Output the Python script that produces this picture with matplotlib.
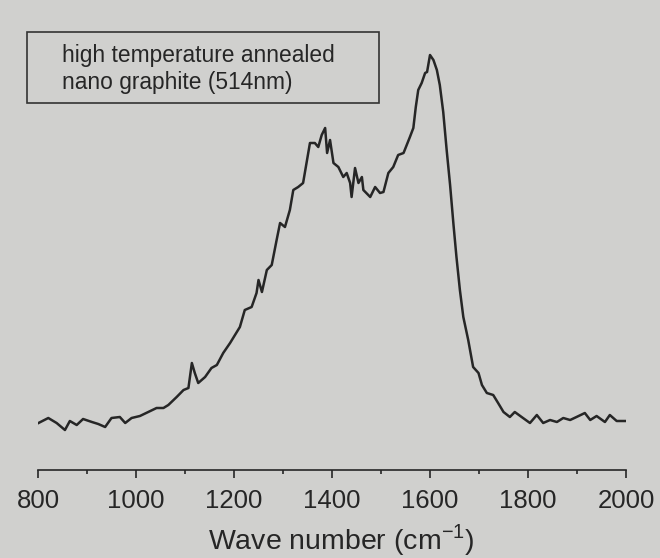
import numpy as np
import matplotlib
matplotlib.use("Agg")
import matplotlib.pyplot as plt
from matplotlib.patches import Rectangle
from matplotlib.ticker import MultipleLocator

plt.rcParams['font.family'] = ['Liberation Sans', 'DejaVu Sans']
plt.rcParams['mathtext.fontset'] = 'custom'
plt.rcParams['mathtext.rm'] = 'Liberation Sans'

# Raman spectrum (intensity in arbitrary units)
wavenumber = [801, 821, 838, 855, 865, 879, 892, 910, 923, 937, 950, 967, 978, 991,
              1008, 1025, 1042, 1056, 1066, 1083, 1097, 1107, 1114, 1120, 1127, 1141,
              1154, 1165, 1178, 1192, 1212, 1222, 1236, 1246, 1250, 1257, 1267, 1277,
              1287, 1294, 1304, 1314, 1321, 1331, 1341, 1348, 1355, 1365, 1372, 1379,
              1386, 1390, 1396, 1403, 1413, 1423, 1430, 1437, 1440, 1447, 1454, 1461,
              1464, 1478, 1488, 1498, 1505, 1515, 1525, 1535, 1546, 1559, 1566, 1571,
              1576, 1583, 1590, 1594, 1600, 1607, 1614, 1620, 1627, 1634, 1641, 1648,
              1654, 1661, 1668, 1678, 1688, 1699, 1706, 1716, 1729, 1739, 1750, 1763,
              1773, 1787, 1804, 1818, 1831, 1845, 1859, 1872, 1886, 1899, 1916, 1927,
              1940, 1957, 1967, 1981, 1998]
intensity = [47, 52, 47, 40, 49, 45, 51, 48, 46, 43, 52, 53, 47, 52,
             54, 58, 62, 62, 65, 73, 80, 82, 107, 97, 87, 93,
             102, 105, 117, 127, 143, 160, 163, 177, 190, 178, 200, 205,
             230, 247, 243, 260, 280, 283, 287, 307, 327, 327, 323, 335,
             342, 317, 330, 307, 303, 293, 297, 287, 273, 302, 287, 293,
             280, 273, 283, 277, 278, 297, 303, 315, 317, 333, 342, 363,
             380, 387, 397, 398, 415, 410, 400, 385, 358, 320, 285, 245,
             213, 180, 153, 130, 103, 97, 85, 77, 75, 67, 58, 53,
             58, 53, 47, 55, 47, 50, 48, 52, 50, 53, 57, 50,
             54, 48, 55, 49, 49]

legend_lines = ["high temperature annealed", "nano graphite (514nm)"]

paper = '#d0d0ce'
ink = '#262626'

fig = plt.figure(figsize=(6.6, 5.58), dpi=100, facecolor=paper)
ax = fig.add_axes([38 / 660, 1 - 470 / 558, 588 / 660, 450 / 558])
ax.set_facecolor('none')

ax.plot(wavenumber, intensity, color=ink, lw=1.8)
ax.set_xlim(800, 2000)
ax.set_ylim(0, 450)

for s in ['left', 'right', 'top']:
    ax.spines[s].set_visible(False)
ax.spines['bottom'].set_color(ink)
ax.spines['bottom'].set_linewidth(1.2)
ax.set_yticks([])
ax.xaxis.set_major_locator(MultipleLocator(200))
ax.xaxis.set_minor_locator(MultipleLocator(100))
ax.tick_params(axis='x', which='major', length=6, width=1.2, color=ink,
               labelsize=18.5, labelcolor=ink, pad=8)
ax.tick_params(axis='x', which='minor', length=3, width=1.2, color=ink)

ax.set_xlabel(r'Wave number (cm$^{\mathregular{-1}}$)', fontsize=20.5, color=ink)
ax.xaxis.set_label_coords((341 - 38) / 588, -52 / 450)

# boxed note in the top-left corner
fig.patches.append(Rectangle((27 / 660, 1 - 103 / 558), 352 / 660, 71 / 558,
                             transform=fig.transFigure, fill=False,
                             edgecolor='#333333', lw=1.2))
fig.text(62 / 660, 1 - 62 / 558, legend_lines[0], fontsize=16.4, color=ink,
         va='baseline')
fig.text(62 / 660, 1 - 89 / 558, legend_lines[1], fontsize=16.4, color=ink,
         va='baseline')

fig.savefig('out.png', dpi=100, facecolor=paper)
